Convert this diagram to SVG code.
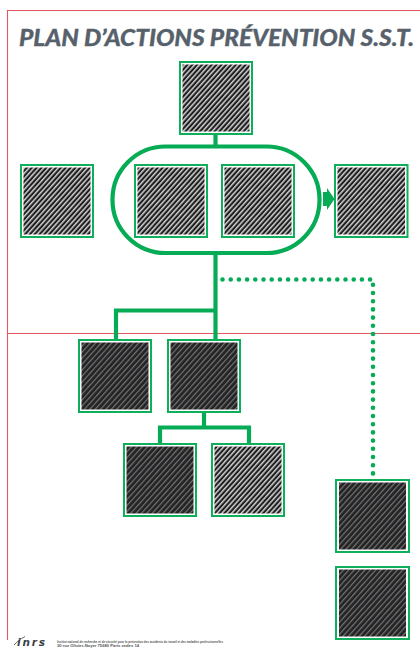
<svg xmlns="http://www.w3.org/2000/svg" width="420" height="650" viewBox="0 0 420 650">
<style>
.frame{fill:none;stroke:#e9555f;stroke-width:1.100}
.box{fill:#fff;stroke:#0fae5a;stroke-width:2}
.light{fill:url(#hl)}
.dark{fill:url(#hd)}
.line{fill:none;stroke:#06ab56;stroke-width:4.200}
.dots{fill:none;stroke:#06ab56;stroke-width:4.600;stroke-linecap:round;stroke-dasharray:0 8.200}
.title{font-family:Lato,"Liberation Sans",sans-serif;font-weight:900;font-style:italic;font-size:22px;fill:#56616b;stroke:#56616b;stroke-width:0.300}
.logo{font-family:"DejaVu Sans",sans-serif;font-weight:700;font-style:italic;font-size:10.500px;fill:#3a3f45}
.small{font-family:"Liberation Sans",Arial,sans-serif;font-size:2.800px;font-weight:700;fill:#555}
</style>
<defs>
<pattern id="hl" width="3.600" height="3.600" patternUnits="userSpaceOnUse" patternTransform="rotate(-48)">
<rect width="3.600" height="3.600" fill="#1e1e20"/><rect width="3.600" height="1.500" fill="#d0d0d0"/>
</pattern>
<pattern id="hd" width="4" height="4" patternUnits="userSpaceOnUse" patternTransform="rotate(-48)">
<rect width="4" height="4" fill="#232325"/><rect width="4" height="1.200" fill="#757575"/>
</pattern>
</defs>
<g id="frame">
<path class="frame" d="M7.500 640V10.500H420"/>
<path class="frame" d="M7.500 333.500H420"/>
</g>
<text id="title" class="title" x="19" y="45.500" textLength="395" lengthAdjust="spacingAndGlyphs">PLAN D’ACTIONS PRÉVENTION S.S.T.</text>
<g id="connectors">
<rect class="line" x="112.500" y="146.500" width="207" height="106.500" rx="53" ry="53"/>
<path class="line" d="M215.500 134V146"/>
<path class="line" d="M215.500 253V339"/>
<path class="line" d="M217 310.500H116V339"/>
<path class="line" d="M204 413V427.500"/>
<path class="line" d="M160 443V427.500H249V443"/>
<path class="dots" d="M222.500 279.500H373V476"/>
<path fill="#06ab56" d="M323 192H327V188L334.500 199L327 210V206H323Z"/>
</g>
<g id="node-top"><rect class="box" x="180" y="62" width="72" height="72"/><rect class="light" x="182.500" y="64.500" width="67" height="67"/></g>
<g id="node-left"><rect class="box" x="21" y="165" width="72" height="72"/><rect class="light" x="23.500" y="167.500" width="67" height="67"/></g>
<g id="node-oval-1"><rect class="box" x="135" y="165" width="72" height="72"/><rect class="light" x="137.500" y="167.500" width="67" height="67"/></g>
<g id="node-oval-2"><rect class="box" x="222" y="165" width="72" height="72"/><rect class="light" x="224.500" y="167.500" width="67" height="67"/></g>
<g id="node-right"><rect class="box" x="335" y="165" width="72.500" height="72"/><rect class="light" x="337.500" y="167.500" width="67.500" height="67"/></g>
<g id="node-mid-1"><rect class="box" x="79" y="340" width="72" height="72"/><rect class="dark" x="81.500" y="342.500" width="67" height="67"/></g>
<g id="node-mid-2"><rect class="box" x="168" y="340" width="72" height="72"/><rect class="dark" x="170.500" y="342.500" width="67" height="67"/></g>
<g id="node-low-1"><rect class="box" x="124" y="444" width="72" height="72"/><rect class="dark" x="126.500" y="446.500" width="67" height="67"/></g>
<g id="node-low-2"><rect class="box" x="212" y="444" width="72" height="72"/><rect class="light" x="214.500" y="446.500" width="67" height="67"/></g>
<g id="node-side-1"><rect class="box" x="336" y="480" width="73" height="72"/><rect class="dark" x="339" y="482.500" width="67" height="67"/></g>
<g id="node-side-2"><rect class="box" x="336" y="567" width="73" height="72"/><rect class="dark" x="339" y="569.500" width="67" height="67"/></g>
<g id="footer">
<text class="logo" x="17" y="646" textLength="28" lengthAdjust="spacing">inrs</text>
<path fill="none" stroke="#3a3f45" stroke-width="0.800" d="M14 645C17 642 20 639 25 636.500"/>
<text class="small" x="57" y="642.500" textLength="166" lengthAdjust="spacingAndGlyphs">Institut national de recherche et de sécurité pour la prévention des accidents du travail et des maladies professionnelles</text>
<text class="small" x="57" y="647" textLength="82" lengthAdjust="spacingAndGlyphs">30 rue Olivier-Noyer 75680 Paris cedex 14</text>
</g>
</svg>
